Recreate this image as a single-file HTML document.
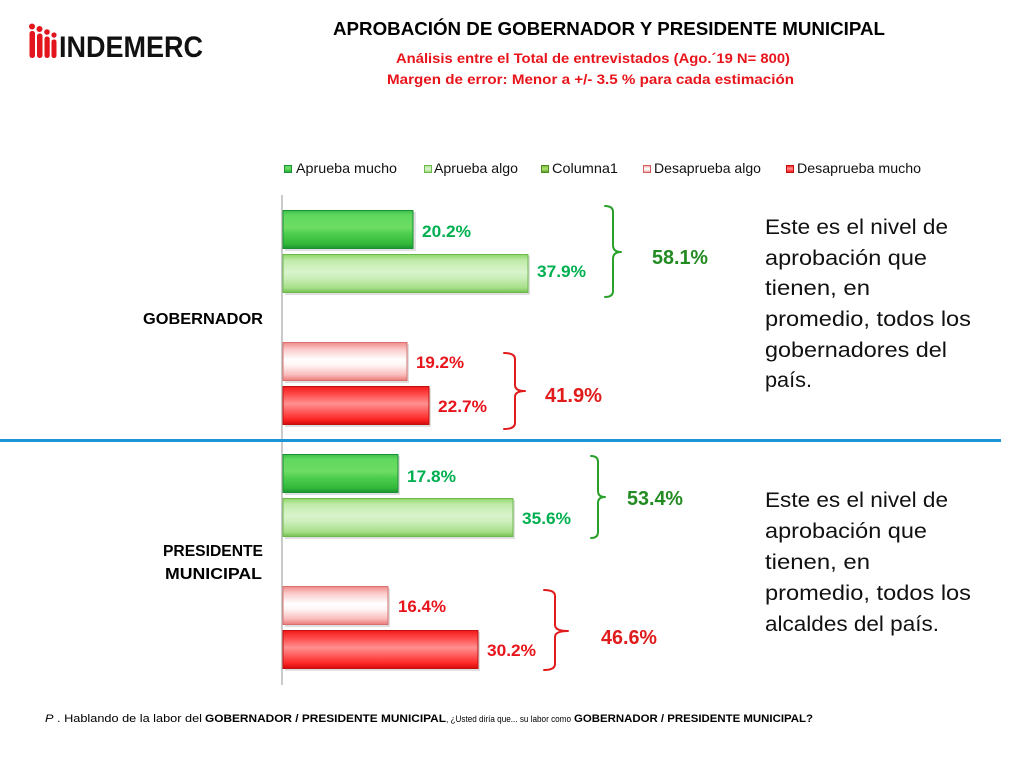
<!DOCTYPE html>
<html>
<head>
<meta charset="utf-8">
<style>
  html, body { margin: 0; padding: 0; background: #ffffff; }
  svg { display: block; }
  text { font-family: "Liberation Sans", "DejaVu Sans", sans-serif; }
</style>
</head>
<body>
<svg width="1024" height="768" viewBox="0 0 1024 768" xmlns="http://www.w3.org/2000/svg">
  <defs>
    <linearGradient id="gMucho" x1="0" y1="0" x2="0" y2="1">
      <stop offset="0" stop-color="#3cbf4a"/>
      <stop offset="0.12" stop-color="#5fd85f"/>
      <stop offset="0.45" stop-color="#6ddc63"/>
      <stop offset="0.6" stop-color="#4fcf4f"/>
      <stop offset="0.88" stop-color="#33b83a"/>
      <stop offset="1" stop-color="#1a9532"/>
    </linearGradient>
    <linearGradient id="gAlgo" x1="0" y1="0" x2="0" y2="1">
      <stop offset="0" stop-color="#8fd86a"/>
      <stop offset="0.15" stop-color="#bfeaa8"/>
      <stop offset="0.45" stop-color="#d9f4cc"/>
      <stop offset="0.6" stop-color="#cdefbd"/>
      <stop offset="0.88" stop-color="#a6df88"/>
      <stop offset="1" stop-color="#72c04e"/>
    </linearGradient>
    <linearGradient id="rAlgo" x1="0" y1="0" x2="0" y2="1">
      <stop offset="0" stop-color="#f08a8a"/>
      <stop offset="0.18" stop-color="#fbcaca"/>
      <stop offset="0.45" stop-color="#ffffff"/>
      <stop offset="0.6" stop-color="#fff4f4"/>
      <stop offset="0.85" stop-color="#f9bcbc"/>
      <stop offset="1" stop-color="#ec7a7a"/>
    </linearGradient>
    <linearGradient id="rMucho" x1="0" y1="0" x2="0" y2="1">
      <stop offset="0" stop-color="#f01a1a"/>
      <stop offset="0.2" stop-color="#ff4a4a"/>
      <stop offset="0.45" stop-color="#ff9090"/>
      <stop offset="0.6" stop-color="#ff6a6a"/>
      <stop offset="0.85" stop-color="#ff2a2a"/>
      <stop offset="1" stop-color="#d40a0a"/>
    </linearGradient>
    <linearGradient id="gCol" x1="0" y1="0" x2="0" y2="1">
      <stop offset="0" stop-color="#7abf3a"/>
      <stop offset="0.5" stop-color="#b4e070"/>
      <stop offset="1" stop-color="#4e9a20"/>
    </linearGradient>
  </defs>

  <!-- Logo -->
  <g fill="#e3141b">
    <circle cx="32" cy="26.5" r="3"/>
    <rect x="29.5" y="31" width="5.5" height="27" rx="2.5"/>
    <circle cx="39.5" cy="29" r="3"/>
    <rect x="37" y="33.5" width="5.5" height="24.5" rx="2.5"/>
    <circle cx="47" cy="32" r="2.8"/>
    <rect x="44.5" y="36.5" width="5.2" height="21.5" rx="2.4"/>
    <circle cx="54" cy="35" r="2.6"/>
    <rect x="51.5" y="39.5" width="5" height="18.5" rx="2.3"/>
  </g>
  <text x="59" y="57" font-size="30" font-weight="bold" fill="#111" textLength="144" lengthAdjust="spacingAndGlyphs">INDEMERC</text>

  <!-- Titles -->
  <text x="333" y="35" font-size="18" font-weight="bold" fill="#000" textLength="552" lengthAdjust="spacingAndGlyphs">APROBACIÓN DE GOBERNADOR Y PRESIDENTE MUNICIPAL</text>
  <text x="396" y="63" font-size="14" font-weight="bold" fill="#e8141b" textLength="394" lengthAdjust="spacingAndGlyphs">Análisis entre el Total de entrevistados (Ago.´19 N= 800)</text>
  <text x="387" y="84" font-size="14" font-weight="bold" fill="#e8141b" textLength="407" lengthAdjust="spacingAndGlyphs">Margen de error: Menor a +/- 3.5 %  para cada estimación</text>

  <!-- Legend -->
  <rect x="284.5" y="165.5" width="7" height="7" fill="url(#gMucho)" stroke="#1a8f35" stroke-width="1"/>
  <text x="296" y="173" font-size="14" fill="#111" textLength="101" lengthAdjust="spacingAndGlyphs">Aprueba mucho</text>
  <rect x="424.5" y="165.5" width="7" height="7" fill="url(#gAlgo)" stroke="#6cb84c" stroke-width="1"/>
  <text x="434" y="173" font-size="14" fill="#111" textLength="84" lengthAdjust="spacingAndGlyphs">Aprueba algo</text>
  <rect x="541.5" y="165.5" width="7" height="7" fill="url(#gCol)" stroke="#4e8a20" stroke-width="1"/>
  <text x="552" y="173" font-size="14" fill="#111" textLength="66" lengthAdjust="spacingAndGlyphs">Columna1</text>
  <rect x="643.5" y="165.5" width="7" height="7" fill="url(#rAlgo)" stroke="#d06060" stroke-width="1"/>
  <text x="654" y="173" font-size="14" fill="#111" textLength="107" lengthAdjust="spacingAndGlyphs">Desaprueba algo</text>
  <rect x="786.5" y="165.5" width="7" height="7" fill="url(#rMucho)" stroke="#c01010" stroke-width="1"/>
  <text x="797" y="173" font-size="14" fill="#111" textLength="124" lengthAdjust="spacingAndGlyphs">Desaprueba mucho</text>

  <!-- Axis -->
  <line x1="282" y1="195" x2="282" y2="685" stroke="#b8b8b8" stroke-width="1.5"/>

  <!-- Separator -->
  <line x1="0" y1="440.5" x2="1001" y2="440.5" stroke="#1b95d5" stroke-width="3"/>

  <!-- Category labels -->
  <text x="143" y="324" font-size="16" font-weight="bold" fill="#000" textLength="120" lengthAdjust="spacingAndGlyphs">GOBERNADOR</text>
  <text x="163" y="556" font-size="16" font-weight="bold" fill="#000" textLength="100" lengthAdjust="spacingAndGlyphs">PRESIDENTE</text>
  <text x="165" y="579" font-size="16" font-weight="bold" fill="#000" textLength="97" lengthAdjust="spacingAndGlyphs">MUNICIPAL</text>

  <!-- Bar shadows -->
  <g fill="#000" opacity="0.12">
    <rect x="285" y="212" width="131" height="39"/>
    <rect x="285" y="256" width="245" height="39"/>
    <rect x="285" y="344" width="124" height="39"/>
    <rect x="285" y="388" width="146" height="39"/>
    <rect x="285" y="456" width="115" height="39"/>
    <rect x="285" y="500" width="230" height="39"/>
    <rect x="285" y="588" width="105" height="39"/>
    <rect x="285" y="632" width="195" height="39"/>
  </g>

  <!-- Bars GOBERNADOR -->
  <rect x="283" y="210.5" width="130" height="38" fill="url(#gMucho)" stroke="#1a8f35" stroke-width="1"/>
  <rect x="283" y="254.5" width="245" height="38" fill="url(#gAlgo)" stroke="#6cb84c" stroke-width="1"/>
  <rect x="283" y="342.5" width="124" height="38" fill="url(#rAlgo)" stroke="#d97070" stroke-width="1"/>
  <rect x="283" y="386.5" width="146" height="38" fill="url(#rMucho)" stroke="#c01010" stroke-width="1"/>

  <!-- Bars PRESIDENTE MUNICIPAL -->
  <rect x="283" y="454.5" width="115" height="38" fill="url(#gMucho)" stroke="#1a8f35" stroke-width="1"/>
  <rect x="283" y="498.5" width="230" height="38" fill="url(#gAlgo)" stroke="#6cb84c" stroke-width="1"/>
  <rect x="283" y="586.5" width="105" height="38" fill="url(#rAlgo)" stroke="#d97070" stroke-width="1"/>
  <rect x="283" y="630.5" width="195" height="38" fill="url(#rMucho)" stroke="#c01010" stroke-width="1"/>

  <!-- Value labels -->
  <g font-size="17" font-weight="bold">
    <text x="422" y="237" fill="#00b050" textLength="49" lengthAdjust="spacingAndGlyphs">20.2%</text>
    <text x="537" y="277" fill="#00b050" textLength="49" lengthAdjust="spacingAndGlyphs">37.9%</text>
    <text x="416" y="368" fill="#e8141b" textLength="48" lengthAdjust="spacingAndGlyphs">19.2%</text>
    <text x="438" y="412" fill="#e8141b" textLength="49" lengthAdjust="spacingAndGlyphs">22.7%</text>
    <text x="407" y="482" fill="#00b050" textLength="49" lengthAdjust="spacingAndGlyphs">17.8%</text>
    <text x="522" y="524" fill="#00b050" textLength="49" lengthAdjust="spacingAndGlyphs">35.6%</text>
    <text x="398" y="612" fill="#e8141b" textLength="48" lengthAdjust="spacingAndGlyphs">16.4%</text>
    <text x="487" y="656" fill="#e8141b" textLength="49" lengthAdjust="spacingAndGlyphs">30.2%</text>
  </g>

  <!-- Brackets -->
  <g fill="none" stroke-width="2" stroke-linecap="round" stroke-linejoin="round">
    <path d="M605,206 Q613,206 613,212 L613,245 Q613,252 621,252 Q613,252 613,259 L613,291 Q613,297 605,297" stroke="#2aa02a"/>
    <path d="M504,353 Q515,353 515,359 L515,385 Q515,391 525,391 Q515,391 515,397 L515,423 Q515,429 504,429" stroke="#e01b1b"/>
    <path d="M591,456 Q598,456 598,462 L598,491 Q598,497 605,497 Q598,497 598,503 L598,532 Q598,538 591,538" stroke="#2aa02a"/>
    <path d="M544,590 Q555,590 555,596 L555,625 Q555,631 568,631 Q555,631 555,637 L555,664 Q555,670 544,670" stroke="#e01b1b"/>
  </g>

  <!-- Totals -->
  <g font-size="20" font-weight="bold">
    <text x="652" y="264" fill="#228b22" textLength="56" lengthAdjust="spacingAndGlyphs">58.1%</text>
    <text x="545" y="402" fill="#e01b1b" textLength="57" lengthAdjust="spacingAndGlyphs">41.9%</text>
    <text x="627" y="505" fill="#228b22" textLength="56" lengthAdjust="spacingAndGlyphs">53.4%</text>
    <text x="601" y="644" fill="#e01b1b" textLength="56" lengthAdjust="spacingAndGlyphs">46.6%</text>
  </g>

  <!-- Right side text -->
  <g font-size="21" fill="#111">
    <text x="765" y="234" textLength="183" lengthAdjust="spacingAndGlyphs">Este es el nivel de</text>
    <text x="765" y="265" textLength="162" lengthAdjust="spacingAndGlyphs">aprobación que</text>
    <text x="765" y="295" textLength="105" lengthAdjust="spacingAndGlyphs">tienen, en</text>
    <text x="765" y="326" textLength="206" lengthAdjust="spacingAndGlyphs">promedio, todos los</text>
    <text x="765" y="357" textLength="182" lengthAdjust="spacingAndGlyphs">gobernadores del</text>
    <text x="765" y="387" textLength="47" lengthAdjust="spacingAndGlyphs">país.</text>

    <text x="765" y="507" textLength="183" lengthAdjust="spacingAndGlyphs">Este es el nivel de</text>
    <text x="765" y="538" textLength="162" lengthAdjust="spacingAndGlyphs">aprobación que</text>
    <text x="765" y="569" textLength="105" lengthAdjust="spacingAndGlyphs">tienen, en</text>
    <text x="765" y="600" textLength="206" lengthAdjust="spacingAndGlyphs">promedio, todos los</text>
    <text x="765" y="631" textLength="174" lengthAdjust="spacingAndGlyphs">alcaldes del país.</text>
  </g>

  <!-- Footer -->
  <g fill="#000">
    <text x="45" y="722" font-size="11" textLength="157" lengthAdjust="spacingAndGlyphs"><tspan font-style="italic">P</tspan> . Hablando de la labor del</text>
    <text x="205" y="722" font-size="11" font-weight="bold" textLength="241" lengthAdjust="spacingAndGlyphs">GOBERNADOR / PRESIDENTE MUNICIPAL</text>
    <text x="446" y="722" font-size="9" textLength="125" lengthAdjust="spacingAndGlyphs">, ¿Usted diría que... su labor como</text>
    <text x="574" y="722" font-size="11" font-weight="bold" textLength="239" lengthAdjust="spacingAndGlyphs">GOBERNADOR / PRESIDENTE MUNICIPAL?</text>
  </g>
</svg>
</body>
</html>
